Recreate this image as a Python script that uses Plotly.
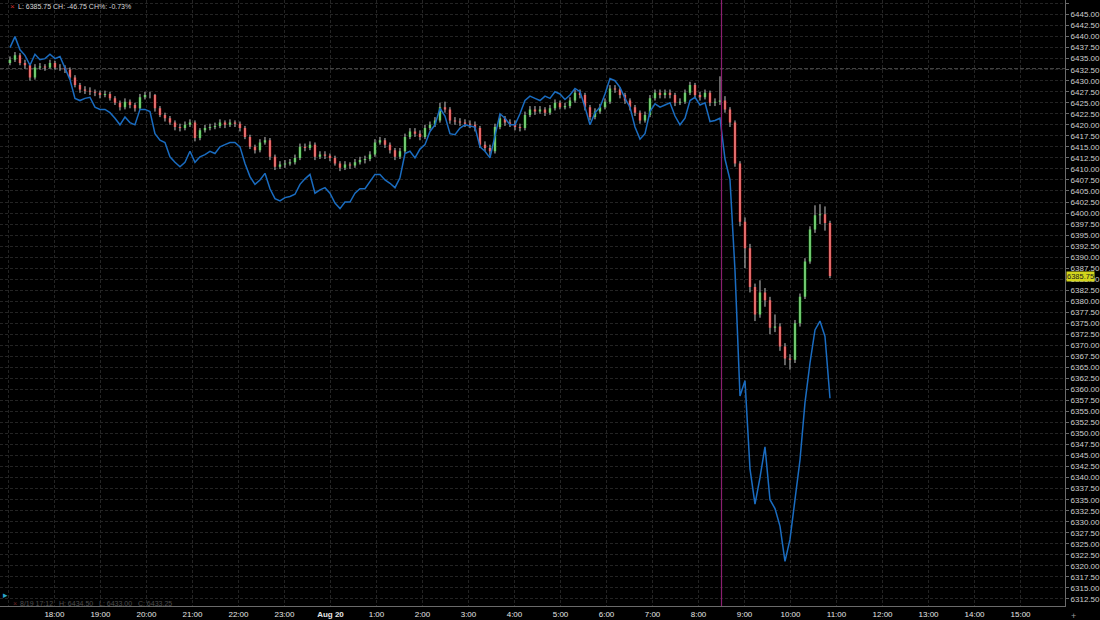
import plotly.graph_objects as go
import pandas as pd

# ---------------- data ----------------
bar_start = "2025-08-19 17:02"
bar_end = "2025-08-20 10:51:30"

es_open0 = 6434.0
es_close = [
    6434.75, 6435.75, 6434.0, 6433.5, 6430.75, 6433.0, 6433.25, 6433.0, 6434.0, 6433.0,
    6433.0, 6432.5, 6430.75, 6429.0, 6428.0, 6427.75, 6427.5, 6427.25, 6426.75, 6427.0,
    6426.0, 6425.0, 6424.0, 6425.25, 6424.5, 6423.75, 6426.25, 6426.75, 6426.75, 6423.75,
    6422.25, 6421.5, 6420.5, 6419.5, 6419.25, 6420.0, 6420.5, 6417.0, 6418.75, 6419.25,
    6419.5, 6419.75, 6420.5, 6420.0, 6420.5, 6420.25, 6419.25, 6417.25, 6415.0, 6414.25,
    6416.0, 6416.5, 6412.75, 6410.5, 6411.0, 6411.25, 6411.5, 6412.5, 6415.0, 6414.75,
    6415.5, 6412.75, 6413.25, 6413.0, 6412.5, 6411.25, 6410.25, 6411.0, 6410.75, 6411.5,
    6412.0, 6412.25, 6413.25, 6416.0, 6416.5, 6415.5, 6414.25, 6412.75, 6414.0, 6417.25,
    6418.5, 6418.0, 6417.25, 6419.25, 6420.0, 6421.0, 6424.0, 6423.5, 6421.0, 6420.75,
    6420.5, 6420.25, 6420.0, 6419.25, 6415.5, 6414.75, 6414.0, 6419.5, 6421.5, 6420.5,
    6420.25, 6419.5, 6419.25, 6422.25, 6423.5, 6423.0, 6423.5, 6422.75, 6423.75, 6425.0,
    6424.0, 6424.25, 6425.5, 6427.25, 6426.75, 6424.0, 6421.75, 6423.0, 6424.0, 6425.25,
    6428.25, 6428.0, 6426.75, 6425.5, 6424.0, 6422.75, 6421.0, 6422.25, 6426.0, 6427.25,
    6426.75, 6427.25, 6426.75, 6425.0, 6425.25, 6427.25, 6429.0, 6426.75, 6426.25, 6427.25,
    6425.0, 6425.25, 6425.5, 6423.5, 6420.5, 6411.25, 6398.0, 6392.0, 6383.25, 6377.0,
    6382.0, 6380.25, 6374.0, 6374.25, 6369.75, 6367.0, 6366.75, 6375.0, 6381.0, 6389.0,
    6396.25, 6399.5, 6399.75, 6397.75, 6385.75,
]
es_high = [
    6435.5, 6436.5, 6436.25, 6434.75, 6434.0, 6433.75, 6434.0, 6433.75, 6434.75, 6434.5,
    6433.75, 6433.5, 6433.0, 6431.25, 6429.5, 6428.75, 6428.5, 6428.0, 6427.75, 6427.75,
    6427.5, 6426.5, 6425.5, 6426.0, 6425.75, 6425.0, 6427.0, 6427.5, 6427.5, 6427.0,
    6424.25, 6422.75, 6422.0, 6421.0, 6420.25, 6420.75, 6421.25, 6421.0, 6419.25, 6420.0,
    6420.25, 6420.5, 6421.25, 6421.0, 6421.25, 6421.0, 6420.75, 6419.75, 6417.75, 6415.5,
    6416.75, 6417.25, 6417.0, 6413.25, 6411.75, 6412.0, 6412.25, 6413.25, 6415.75, 6415.75,
    6416.25, 6416.0, 6414.0, 6414.0, 6413.5, 6413.0, 6411.75, 6411.75, 6411.5, 6412.25,
    6412.75, 6413.0, 6414.0, 6416.75, 6417.25, 6417.0, 6416.0, 6414.75, 6414.75, 6418.0,
    6419.25, 6419.25, 6418.75, 6420.0, 6420.75, 6421.75, 6425.0, 6425.25, 6424.0, 6421.75,
    6421.5, 6421.25, 6421.0, 6420.75, 6419.75, 6416.25, 6415.5, 6420.25, 6422.25, 6422.0,
    6421.25, 6421.0, 6420.25, 6423.0, 6424.25, 6424.25, 6424.25, 6424.0, 6424.5, 6425.75,
    6425.5, 6425.0, 6426.25, 6428.0, 6428.0, 6427.25, 6424.5, 6423.75, 6424.75, 6426.0,
    6429.0, 6429.0, 6428.5, 6427.25, 6426.0, 6424.5, 6423.25, 6423.0, 6426.75, 6428.0,
    6428.0, 6428.0, 6428.0, 6427.25, 6426.0, 6428.0, 6429.75, 6429.5, 6427.5, 6428.0,
    6427.75, 6426.0, 6431.0, 6426.5, 6424.0, 6421.0, 6411.75, 6399.0, 6393.0, 6384.0,
    6384.75, 6383.0, 6381.0, 6377.0, 6375.0, 6370.5, 6368.0, 6375.75, 6381.75, 6389.75,
    6397.0, 6401.75, 6402.0, 6401.5, 6398.25,
]
es_low = [
    6433.5, 6434.25, 6433.5, 6432.75, 6430.0, 6430.25, 6432.5, 6432.25, 6432.75, 6432.5,
    6432.25, 6431.75, 6430.25, 6428.5, 6427.25, 6427.0, 6426.75, 6426.5, 6426.0, 6426.25,
    6425.5, 6424.5, 6423.25, 6423.5, 6423.75, 6423.0, 6423.5, 6425.75, 6426.0, 6423.0,
    6421.75, 6420.75, 6420.0, 6418.75, 6418.5, 6418.75, 6419.5, 6416.25, 6416.5, 6418.25,
    6418.75, 6419.0, 6419.25, 6419.25, 6419.5, 6419.5, 6418.5, 6416.75, 6414.5, 6413.5,
    6413.75, 6415.5, 6412.0, 6409.75, 6410.0, 6410.25, 6410.75, 6411.0, 6412.0, 6414.0,
    6414.25, 6412.0, 6412.25, 6412.25, 6411.75, 6410.75, 6409.5, 6409.75, 6410.0, 6410.25,
    6411.0, 6411.25, 6411.75, 6412.75, 6415.5, 6414.75, 6413.5, 6412.0, 6412.25, 6413.5,
    6416.75, 6417.25, 6416.5, 6416.75, 6418.75, 6419.5, 6420.5, 6422.75, 6420.25, 6420.0,
    6419.75, 6419.5, 6419.25, 6418.5, 6414.75, 6414.0, 6413.0, 6413.5, 6419.0, 6419.75,
    6419.5, 6418.75, 6418.5, 6418.75, 6421.75, 6422.25, 6422.5, 6422.0, 6422.25, 6423.25,
    6423.5, 6423.5, 6423.75, 6425.0, 6426.0, 6423.25, 6421.0, 6421.25, 6422.5, 6423.5,
    6424.75, 6427.25, 6426.0, 6424.75, 6423.25, 6422.0, 6420.25, 6420.5, 6421.75, 6425.5,
    6426.0, 6426.0, 6426.0, 6424.25, 6424.5, 6424.75, 6426.75, 6426.0, 6425.5, 6425.75,
    6424.25, 6424.25, 6424.5, 6422.75, 6419.5, 6410.5, 6397.0, 6387.5, 6382.0, 6375.5,
    6376.25, 6378.75, 6372.5, 6373.0, 6368.75, 6365.5, 6364.5, 6366.0, 6374.25, 6380.5,
    6388.5, 6395.5, 6397.5, 6396.0, 6385.25,
]
blue_vals = [
    6437.5, 6440.0, 6437.0, 6435.75, 6433.5, 6436.0, 6434.75, 6435.0, 6436.0, 6435.0,
    6435.5, 6433.0, 6430.25, 6426.0, 6425.5, 6426.0, 6426.25, 6424.0, 6423.5, 6423.5,
    6422.75, 6421.5, 6420.0, 6421.75, 6420.5, 6420.0, 6423.5, 6423.5, 6423.0, 6418.0,
    6416.5, 6416.0, 6412.75, 6411.5, 6410.5, 6411.5, 6414.0, 6411.5, 6412.75, 6413.25,
    6414.0, 6413.5, 6415.0, 6415.5, 6416.0, 6416.0, 6415.0, 6411.25, 6408.25, 6406.5,
    6407.5, 6409.0, 6405.5, 6403.25, 6402.75, 6403.5, 6403.75, 6404.25, 6406.5, 6407.75,
    6408.75, 6404.5, 6405.25, 6405.75, 6404.5, 6402.25, 6401.0, 6402.5, 6402.5, 6404.5,
    6405.5, 6405.5, 6407.0, 6408.75, 6408.75, 6407.5, 6406.75, 6405.75, 6408.0, 6413.5,
    6414.0, 6412.5, 6414.5, 6415.5, 6418.5, 6420.0, 6423.75, 6422.0, 6418.0, 6417.75,
    6419.25, 6420.0, 6419.75, 6419.5, 6415.0, 6414.0, 6412.5, 6417.25, 6422.5, 6421.5,
    6420.0, 6420.0, 6422.5, 6425.5, 6426.5, 6426.0, 6425.5, 6426.5, 6426.0, 6427.5,
    6427.0, 6425.75, 6426.75, 6428.25, 6427.5, 6424.0, 6420.0, 6422.75, 6424.0, 6427.0,
    6430.5, 6430.0, 6428.5, 6426.0, 6424.0, 6419.5, 6416.75, 6418.0, 6423.0, 6424.75,
    6424.0, 6424.5, 6425.0, 6422.0, 6420.0, 6421.5, 6425.5, 6426.25, 6424.5, 6425.0,
    6420.75, 6421.0, 6421.5, 6412.25, 6407.5, 6387.0, 6358.5, 6362.0, 6342.0, 6334.0,
    6340.0, 6347.0, 6335.0, 6333.0, 6329.0, 6321.0, 6326.0, 6335.0, 6344.0, 6357.0,
    6366.0, 6373.5, 6375.5, 6372.0, 6358.0,
]

prev_settle = 6432.75
last_price = 6385.75
event_time = "2025-08-20 08:30"

hour_ticks = pd.date_range("2025-08-19 17:00", "2025-08-20 15:00", freq="1h")
hour_labels = [""] + ["18:00", "19:00", "20:00", "21:00", "22:00", "23:00", "<b>Aug 20</b>",
                      "1:00", "2:00", "3:00", "4:00", "5:00", "6:00", "7:00", "8:00", "9:00",
                      "10:00", "11:00", "12:00", "13:00", "14:00", "15:00"]
x_range = ["2025-08-19 16:49", "2025-08-20 15:58"]
y_range = [6310.9, 6448.3]

header_text = "L: 6385.75 CH: -46.75 CH%: -0.73%"
info_text = "8/19 17:12   H: 6434.50   L: 6433.00   C: 6433.25"

# ---------------- figure ----------------
times = pd.date_range(bar_start, bar_end, periods=len(es_close))
es_open = [es_open0] + es_close[:-1]

W, H = 1100, 620
ML, MR, MT, MB = 0, 35, 0, 14
PW, PH = W - ML - MR, H - MT - MB

FONT = "Liberation Sans"
GRID = "#242424"

fig = go.Figure()

fig.add_trace(go.Scatter(
    x=times, y=blue_vals, mode="lines",
    line=dict(color="#1a6cc0", width=1.5),
    hoverinfo="skip", showlegend=False,
))

# wicks (grey)
fig.add_trace(go.Ohlc(
    x=times, open=es_open, high=es_high, low=es_low, close=es_close,
    increasing=dict(line=dict(color="#c4c4c4", width=1)),
    decreasing=dict(line=dict(color="#c4c4c4", width=1)),
    tickwidth=0, showlegend=False, hoverinfo="skip",
))
# bodies
fig.add_trace(go.Candlestick(
    x=times, open=es_open, high=es_high, low=es_low, close=es_close,
    increasing=dict(fillcolor="#1ccc1c", line=dict(color="#1ccc1c", width=0)),
    decreasing=dict(fillcolor="#ff1414", line=dict(color="#ff1414", width=0)),
    whiskerwidth=0, showlegend=False, hoverinfo="skip",
))

shapes = [
    dict(type="line", xref="paper", x0=0, x1=1, yref="y", y0=prev_settle, y1=prev_settle,
         line=dict(color="#484848", width=1, dash="4px,2px"), layer="below"),
    dict(type="line", xref="x", x0=event_time, x1=event_time, yref="paper", y0=0, y1=1,
         line=dict(color="#8a1f70", width=1.2)),
]

annotations = [
    dict(xref="paper", yref="paper", x=12 / PW, y=1 - 6 / PH, text="×", showarrow=False,
         xanchor="center", yanchor="middle", font=dict(family=FONT, size=8, color="#d03030")),
    dict(xref="paper", yref="paper", x=16 / PW, y=1 - 6 / PH, text=header_text, showarrow=False,
         xanchor="left", yanchor="middle", font=dict(family=FONT, size=7, color="#d8d8d8")),
    dict(xref="paper", yref="paper", x=15 / PW, y=(PH - 603) / PH, text="×", showarrow=False,
         xanchor="center", yanchor="middle", font=dict(family=FONT, size=7, color="#6a2020")),
    dict(xref="paper", yref="paper", x=18 / PW, y=(PH - 603) / PH, text=info_text, showarrow=False,
         xanchor="left", yanchor="middle", font=dict(family=FONT, size=7, color="#4e4e4e")),
    dict(xref="paper", yref="paper", x=5 / PW, y=(PH - 595) / PH, text="▸", showarrow=False,
         xanchor="center", yanchor="middle", font=dict(family="DejaVu Sans", size=9, color="#2aa7c9")),
    dict(xref="paper", yref="y", x=1, y=last_price, text=f"{last_price:.2f}", showarrow=False,
         xanchor="left", yanchor="middle", xshift=1, yshift=-1, bgcolor="#d3d61c", borderpad=0,
         font=dict(family=FONT, size=7.5, color="#1a1a1a")),
    dict(xref="paper", yref="paper", x=1, y=0, text="+", showarrow=False, xanchor="left",
         yanchor="top", xshift=4, yshift=-3, font=dict(family=FONT, size=9, color="#9a9a9a")),
]

fig.update_layout(
    width=W, height=H,
    margin=dict(l=ML, r=MR, t=MT, b=MB, pad=0, autoexpand=False),
    paper_bgcolor="#000000", plot_bgcolor="#000000",
    showlegend=False,
    shapes=shapes, annotations=annotations,
    xaxis=dict(
        type="date", range=x_range, rangeslider=dict(visible=False),
        tickvals=list(hour_ticks), ticktext=hour_labels,
        showgrid=True, gridcolor=GRID, griddash="3px,2px", gridwidth=1,
        showline=True, linecolor="#6a6a6a", linewidth=1,
        ticks="", tickfont=dict(family=FONT, size=8, color="#e6e6e6"),
        zeroline=False, fixedrange=True, automargin=False,
    ),
    yaxis=dict(
        side="right", range=y_range,
        tick0=6312.5, dtick=2.5, tickformat=".2f",
        showgrid=True, gridcolor=GRID, griddash="3px,2px", gridwidth=1,
        showline=True, linecolor="#6a6a6a", linewidth=1,
        ticks="outside", ticklen=3, tickcolor="#6a6a6a",
        tickfont=dict(family=FONT, size=8, color="#cfcfcf"),
        zeroline=False, fixedrange=True, automargin=False,
    ),
)

fig.write_html(
    "out.html",
    config={"displayModeBar": False},
    post_script="document.body.style.margin='0';document.body.style.background='#000';"
                "document.body.style.overflow='hidden';",
)
